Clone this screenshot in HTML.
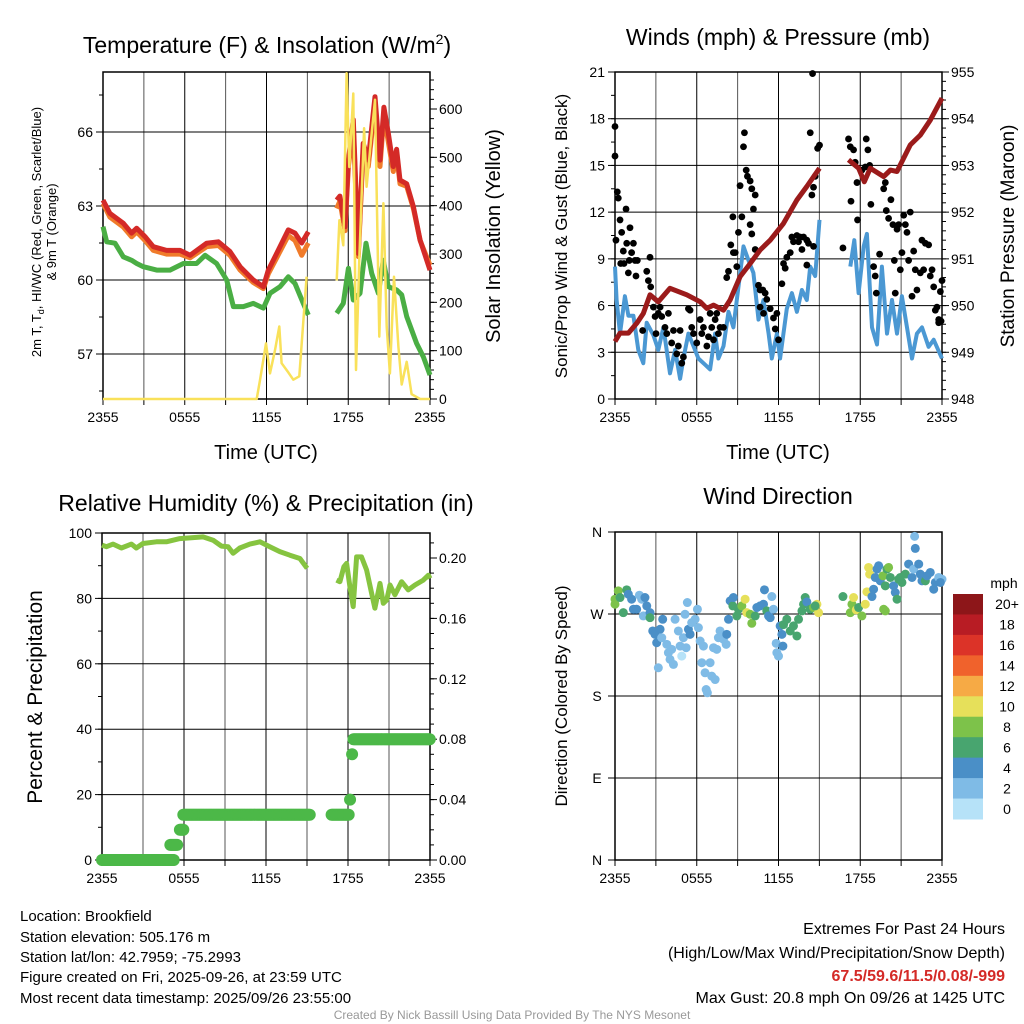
<!DOCTYPE html>
<html><head><meta charset="utf-8"><style>
html,body{margin:0;padding:0;background:#fff;}
svg{display:block;font-family:"Liberation Sans",sans-serif;}
</style></head><body>
<svg id="c" width="1024" height="1024" viewBox="0 0 1024 1024">
<g id="static">
<text x="267" y="53" font-size="23" text-anchor="middle">Temperature (F) &amp; Insolation (W/m<tspan font-size="14" dy="-9">2</tspan><tspan dy="9">)</tspan></text>
<text x="778" y="45" font-size="23" text-anchor="middle">Winds (mph) &amp; Pressure (mb)</text>
<text x="266" y="511" font-size="23" text-anchor="middle">Relative Humidity (%) &amp; Precipitation (in)</text>
<text x="778" y="504" font-size="23" text-anchor="middle">Wind Direction</text>
<text transform="translate(41,232) rotate(-90)" font-size="13" text-anchor="middle">2m T, T<tspan font-size="9" dy="3">d</tspan><tspan dy="-3">, HI/WC (Red, Green, Scarlet/Blue)</tspan></text>
<text transform="translate(56,232) rotate(-90)" font-size="13" text-anchor="middle">&amp; 9m T (Orange)</text>
<text transform="translate(500,236) rotate(-90)" font-size="20" text-anchor="middle">Solar Insolation (Yellow)</text>
<text transform="translate(567,236) rotate(-90)" font-size="17" text-anchor="middle">Sonic/Prop Wind &amp; Gust (Blue, Black)</text>
<text transform="translate(1014,236) rotate(-90)" font-size="19" text-anchor="middle">Station Pressure (Maroon)</text>
<text transform="translate(42,697) rotate(-90)" font-size="21" text-anchor="middle">Percent &amp; Precipitation</text>
<text transform="translate(567,696) rotate(-90)" font-size="17" text-anchor="middle">Direction (Colored By Speed)</text>
<text x="266" y="459" font-size="20" text-anchor="middle">Time (UTC)</text>
<text x="778" y="459" font-size="20" text-anchor="middle">Time (UTC)</text>
<g font-size="15">
<text x="20" y="921">Location: Brookfield</text>
<text x="20" y="942">Station elevation: 505.176 m</text>
<text x="20" y="962">Station lat/lon: 42.7959; -75.2993</text>
<text x="20" y="982">Figure created on Fri, 2025-09-26, at 23:59 UTC</text>
<text x="20" y="1003">Most recent data timestamp: 2025/09/26 23:55:00</text>
</g>
<g font-size="16" text-anchor="end">
<text x="1005" y="934">Extremes For Past 24 Hours</text>
<text x="1005" y="958">(High/Low/Max Wind/Precipitation/Snow Depth)</text>
<text x="1005" y="981" fill="#d42a27" font-weight="bold">67.5/59.6/11.5/0.08/-999</text>
<text x="1005" y="1003">Max Gust: 20.8 mph On 09/26 at 1425 UTC</text>
</g>
<text x="512" y="1019" font-size="12" fill="#999" text-anchor="middle">Created By Nick Bassill Using Data Provided By The NYS Mesonet</text>
<text x="1004" y="588" font-size="14" text-anchor="middle">mph</text>
</g>
</svg>
<script>
// ---------- DATA ----------
const xTickLabels = ["2355","0555","1155","1755","2355"];
const xTickHours = [0,6,12,18,24];
// Temperature panel
const tempTimes = [0,0.51,1.49,2.1,2.47,3.08,3.69,4.67,5.65,6.39,7.61,8.46,9.32,10.06,11.03,11.77,12.13,12.75,13.6,14.09,14.58,15.07,null,17.15,17.39,17.76,18.01,18.37,18.74,19.1,19.47,19.96,20.33,20.62,20.94,21.31,21.55,21.8,22.29,22.78,23.27,24.0];
const tempRed = [63.24,62.7,62.3,61.9,62.1,61.76,61.35,61.2,61.2,61.0,61.49,61.55,61.15,60.54,60.0,59.73,60.4,61.08,62.03,61.9,61.5,61.96,null,63.24,63.4,62.16,64.86,66.5,61.08,65.54,64.86,67.43,64.86,67.0,65.95,64.6,65.3,64.05,63.9,62.97,61.62,60.4];
const tempOrange = [63.1,62.55,62.15,61.75,61.95,61.6,61.2,61.05,61.05,60.9,61.35,61.4,61.0,60.4,59.9,59.65,60.25,60.9,61.8,61.6,61.0,61.5,null,62.9,63.2,62.0,64.6,66.2,60.95,65.3,64.6,67.1,64.6,66.7,65.6,64.4,65.1,63.9,63.8,62.9,61.6,60.6];
const dewTimes = [0,0.27,0.88,1.49,2.1,2.47,2.96,3.94,4.92,5.9,6.87,7.49,8.34,9.08,9.57,10.3,11.03,11.77,12.26,12.99,13.6,14.09,14.7,15.07,null,17.15,17.64,18.01,18.37,18.86,19.3,19.72,20.21,20.57,20.94,21.55,21.92,22.29,23.02,23.51,24.0];
const dewVals = [62.16,61.55,61.49,60.94,60.8,60.67,60.54,60.4,60.4,60.67,60.67,61.0,60.67,60.0,58.92,58.92,59.05,58.86,59.46,59.73,60.13,59.86,59.05,58.58,null,58.65,59.05,60.47,59.19,59.46,61.49,60.27,59.46,60.8,59.73,59.6,59.4,58.52,57.43,56.89,56.15];
const solarTimes = [0,11.0,11.28,11.52,11.96,12.26,12.62,12.94,13.11,13.6,13.97,14.41,14.94,null,17.15,17.35,17.64,17.88,18.08,18.37,18.57,18.81,19.16,19.35,19.72,19.96,20.28,20.58,20.82,21.06,21.36,21.68,21.92,22.29,22.65,23.27,24.0];
const solarVals = [0,0,0,39,115,53,100,150,74,55,40,47,253,null,245,370,318,674,480,632,60,288,560,439,550,619,129,405,150,53,253,108,30,77,10,0,0];
const tempTicks = [57,60,63,66];
const solarTicks = [0,100,200,300,400,500,600];
// Winds panel
const windTimes = [0,0.12,0.37,0.73,0.98,1.35,1.71,2.08,2.33,2.82,3.18,3.55,4.04,4.41,4.78,5.02,5.39,5.76,6.12,6.61,6.98,7.35,7.59,7.96,8.33,8.69,8.94,9.43,9.8,10.16,10.53,10.9,11.27,11.51,11.88,12.12,12.61,12.98,13.35,13.72,14.08,14.33,14.69,15.01,null,17.27,17.56,17.88,18.25,18.49,18.86,19.23,19.59,19.96,20.33,20.7,21.06,21.43,21.8,22.16,22.53,23.02,23.39,24.0];
const windVals = [8.5,6.36,4.2,6.6,5.35,5.35,3.15,2.3,4.9,4.1,3.15,4.6,1.65,3.15,1.3,2.6,4.2,3.4,2.6,2.2,1.9,4.2,2.6,3.4,5.6,4.6,6.36,9.8,8.9,8.1,5.1,6.36,4.2,2.6,4.2,2.6,5.8,6.8,5.6,7.0,6.36,8.5,7.9,11.5,null,8.5,10.2,6.8,9.8,10.6,4.6,3.5,8.5,4.2,6.36,4.2,6.6,4.6,2.6,4.2,4.6,3.35,3.8,2.6];
const gustTimes = [0,0,0.07,0.17,0.24,0.37,0.49,0.61,0.42,0.66,0.81,0.86,0.98,1.05,1.1,1.22,1.35,1.47,1.54,1.64,2.03,2.33,2.45,2.57,2.62,2.82,2.94,3.01,3.18,3.31,3.43,3.67,3.8,3.92,4.16,4.29,4.53,4.65,4.78,4.9,5.02,5.39,5.51,5.63,5.76,6.0,6.25,6.37,6.49,6.74,6.86,6.98,7.1,7.23,7.35,7.47,7.59,7.71,7.96,8.2,8.33,8.5,8.65,8.69,8.82,8.94,9.06,9.18,9.31,9.43,9.5,9.63,9.72,9.92,10.04,10.16,10.29,9.92,10.04,10.29,10.53,10.65,10.85,11.02,11.14,10.65,10.9,11.39,11.63,11.76,11.88,12.0,12.25,12.37,12.49,12.61,12.86,12.98,13.1,13.35,13.47,13.59,13.72,13.84,14.08,14.2,14.45,14.33,14.57,14.69,14.87,15.01,14.5,14.08,14.57,16.73,17.14,17.27,17.32,17.51,17.63,17.76,17.8,18.12,18.37,18.44,18.56,18.69,18.78,18.98,19.1,19.18,19.42,19.72,19.84,19.91,20.08,20.25,20.4,20.5,20.57,20.7,20.82,20.94,21.06,21.19,21.31,21.43,21.55,21.67,21.8,21.92,22.04,22.16,22.41,22.53,22.65,22.78,23.02,23.14,23.27,23.39,23.51,23.63,23.76,23.88,24.0,23.76,23.93];
const gustVals = [17.5,15.6,10.2,13.3,12.9,11.5,10.7,9.5,8.7,8.7,12.2,10.0,8.1,8.9,11.0,9.4,10.0,8.9,7.9,8.9,4.4,8.2,7.6,9.1,7.2,5.9,5.3,4.2,5.5,5.9,5.3,4.6,4.2,5.5,3.6,4.4,2.9,3.4,4.4,2.3,2.7,5.8,5.7,4.6,4.2,3.6,5.1,4.2,4.6,3.4,4.0,5.5,4.6,3.8,5.1,5.5,4.2,4.6,4.6,7.8,8.2,9.9,11.7,9.4,9.4,8.5,10.7,13.7,11.7,16.2,17.1,14.7,14.3,14.0,13.5,12.2,13.1,11.2,10.6,9.6,7.3,7.0,7.0,6.8,6.4,5.9,5.5,5.8,5.2,4.5,5.5,3.8,7.4,8.7,8.4,9.1,9.4,10.4,10.1,10.5,10.1,10.4,9.6,10.4,10.2,10.0,13.1,17.1,13.6,14.3,16.1,16.3,20.9,8.6,9.8,9.7,16.7,16.2,12.7,16.0,15.2,13.9,11.5,14.7,14.9,16.7,16.0,15.0,12.5,8.5,7.9,6.8,9.3,13.5,13.9,12.1,11.6,12.8,11.2,8.9,6.8,10.9,11.2,8.3,9.4,11.8,11.2,10.7,8.9,12.0,6.6,9.5,8.3,7.0,8.1,10.2,8.3,10.0,9.9,7.9,8.3,7.2,5.7,5.9,5.1,6.9,7.6,4.9,5.0];
const presTimes = [0,0.37,0.98,1.59,2.08,2.57,3.18,4.04,5.27,6.25,6.74,7.23,7.96,8.45,9.18,9.92,10.65,11.39,12.37,13.35,14.08,15.01,null,17.14,17.88,18.3,18.74,19.72,20.21,20.7,21.67,22.41,23.14,24.0];
const presVals = [949.23,949.41,949.41,949.62,949.83,950.23,950.08,950.37,950.23,950.08,949.94,950.01,949.9,950.12,950.62,950.9,951.19,951.4,951.76,952.26,952.55,952.94,null,953.12,952.94,952.65,952.94,952.76,952.9,952.87,953.44,953.65,953.97,954.44];
const windTicks = [0,3,6,9,12,15,18,21];
const presTicks = [948,949,950,951,952,953,954,955];
// Humidity panel
const rhTimes = [0,0.32,0.81,1.42,2.15,2.51,3.0,3.98,4.71,5.69,7.4,8.13,8.74,9.23,9.59,10.08,10.82,11.55,12.28,13.01,13.75,14.48,15.01,null,17.16,17.41,17.7,17.9,18.14,18.38,18.63,18.99,19.36,19.73,19.97,20.34,20.58,20.83,21.07,21.43,21.92,22.41,22.9,23.51,23.88,24.0];
const rhVals = [96.3,95.8,96.6,95.4,96.6,95.4,96.8,97.3,97.3,98.3,98.8,97.8,96.0,95.8,93.8,95.4,96.6,97.3,95.8,94.3,93.2,92.2,89.2,null,85.6,85.1,89.7,90.7,83.6,77.5,92.7,92.7,88.7,81.6,77.0,84.6,78.5,79.5,84.1,81.1,85.1,82.6,84.1,85.6,87.1,86.1];
const precipStart = [0,5.0,5.7,5.95,16.8,18.15,18.3,18.4];
const precipEnd   = [5.3,5.55,5.95,15.2,18.1,18.15,18.3,24.0];
const precipVals  = [0.00,0.01,0.02,0.03,0.03,0.04,0.07,0.08];
const rhTicks = [0,20,40,60,80,100];
const precipTicks = [0.00,0.04,0.08,0.12,0.16,0.20];
// Wind direction panel
const dirTimes = [0,0,0.24,0.37,0.61,0.86,0.98,1.22,1.35,1.59,1.79,1.96,2.08,2.2,2.33,2.57,2.57,2.77,2.94,3.06,3.31,3.5,3.43,3.18,3.8,3.92,4.04,4.16,4.29,4.41,4.65,4.78,4.9,5.02,5.22,5.31,5.14,5.39,5.51,5.63,5.88,6.05,6.12,6.25,6.37,6.49,6.61,6.69,6.78,6.98,7.1,7.35,7.23,7.47,7.59,7.71,7.96,8.16,8.2,8.33,8.45,8.65,8.69,8.94,9.06,9.31,9.55,9.67,9.92,10.04,10.29,10.41,10.65,10.9,10.97,11.14,11.27,11.39,11.51,11.63,11.83,11.88,12.0,12.12,12.25,12.32,12.37,12.61,12.86,13.1,13.35,13.47,13.72,13.84,13.96,14.08,14.33,14.57,14.82,14.94,14.69,16.73,17.27,17.39,17.51,17.71,17.88,18.12,18.37,18.49,18.61,18.69,18.86,18.98,19.1,19.23,19.35,19.47,19.67,19.84,19.96,20.08,20.21,20.45,20.57,20.7,20.82,20.94,21.06,21.31,21.55,21.8,21.92,22.04,21.99,22.29,22.41,22.53,22.78,22.9,23.14,23.39,23.51,23.76,24.0,23.88,19.72,19.84];
const dirVals = [280.7,286.2,295.4,288.1,271.5,296.5,291.7,286.2,275.2,275.2,290.6,286.2,267.9,288.1,278.9,271.5,266.0,251.4,247.7,238.5,253.2,264.2,244.0,211.0,236.7,227.5,220.2,231.2,214.7,264.2,251.4,234.8,223.8,244.0,233.0,282.6,269.7,253.2,247.7,260.5,264.2,275.2,255.0,240.3,216.5,234.8,205.5,187.1,183.5,216.5,201.8,198.1,233.0,231.2,244.0,251.4,242.2,236.7,247.7,264.2,284.4,278.9,288.1,267.9,275.2,278.9,286.2,271.5,269.7,259.8,267.9,277.1,278.9,280.7,296.5,273.4,267.9,266.0,289.2,275.2,237.8,227.5,223.8,256.9,247.7,234.8,258.4,264.2,251.4,256.9,245.9,264.2,273.4,280.7,288.1,283.3,275.2,277.1,280.7,271.5,278.9,289.2,271.5,280.7,288.1,274.5,277.1,267.9,280.7,294.3,321.1,313.7,289.2,297.2,310.1,319.3,322.9,306.4,311.9,300.9,319.3,321.1,310.1,300.9,293.6,286.2,308.2,310.1,304.6,313.7,324.8,310.1,319.3,342.0,355.2,324.8,313.7,306.4,306.4,311.9,315.6,297.2,304.6,310.1,308.2,304.6,275.2,273.4];
const dirSpeeds = [9,9,9,7,7,7,5,5,5,5,3,3,3,5,5,5,7,5,5,5,5,5,3,3,3,3,3,3,3,3,3,3,1,3,3,3,3,5,5,3,3,3,3,3,3,3,3,3,3,3,3,3,3,3,3,3,3,3,5,5,5,7,5,7,7,9,11,11,9,9,7,5,5,5,5,7,5,5,3,3,3,3,3,5,5,5,7,7,7,7,7,7,7,7,7,5,7,9,11,11,7,7,9,9,11,11,7,9,11,11,11,11,5,5,5,5,5,5,9,7,7,9,7,5,5,7,7,7,7,7,5,5,3,5,3,5,5,5,7,5,5,5,5,3,3,5,9,9];
const cbarLabels = ["20+","18","16","14","12","10","8","6","4","2","0"];
const cbarColors = ["#8d1619","#b81c24","#dc3328","#f0622c","#f6aa45","#e6e05a","#7dc24a","#48a56f","#4a8fc7","#7fbbe6","#b6e2f8"];
const dirTickLabels = ["N","E","S","W","N"];
const dirTickVals = [0,90,180,270,360];

// ---------- DRAW ----------
const NS="http://www.w3.org/2000/svg";
const svg=document.getElementById('c');
function mk(tag,attrs,parent){const e=document.createElementNS(NS,tag);for(const k in attrs)e.setAttribute(k,attrs[k]);(parent||svg).appendChild(e);return e;}
function lin(d0,d1,r0,r1){return v=>r0+(v-d0)/(d1-d0)*(r1-r0);}
function pathFrom(ts,vs,xs,ys){let d="",pen=false;for(let i=0;i<ts.length;i++){if(ts[i]===null||vs[i]===null){pen=false;continue;}d+=(pen?"L":"M")+xs(ts[i]).toFixed(1)+","+ys(vs[i]).toFixed(1);pen=true;}return d;}

function frame(name,L,R,T,B,xs,yTicksPix){
  const g=mk('g',{});
  
  
  for(let h=3;h<24;h+=3){const l=mk('line',{x1:xs(h),x2:xs(h),y1:T,y2:B,stroke:(h%6===0)?'#000':'#555','stroke-width':1},g);}
  yTicksPix.forEach(y=>{const l=mk('line',{x1:L,x2:R,y1:y,y2:y,stroke:'#000','stroke-width':1},g);});
  for(let h=0;h<=24;h+=3){const l=mk('line',{x1:xs(h),x2:xs(h),y1:B,y2:B+6,stroke:'#000','stroke-width':1},g);}
  xTickHours.forEach((h,i)=>{const t=mk('text',{x:xs(h),y:B+23,'font-size':14,'text-anchor':'middle'},g);t.textContent=xTickLabels[i];});
  const r=mk('rect',{x:L,y:T,width:R-L,height:B-T,fill:'none',stroke:'#000','stroke-width':1.5},g);
  
  return g;
}
function leftAxis(g,L,ticks,ys,fmt,minorStep,d0,d1){
  ticks.forEach(v=>{const y=ys(v);mk('line',{x1:L-7,x2:L,y1:y,y2:y,stroke:'#000'},g);const t=mk('text',{x:L-10,y:y+5,'font-size':14,'text-anchor':'end'},g);t.textContent=fmt(v);});
  for(let v=d0;v<=d1+1e-9;v+=minorStep){const y=ys(v);mk('line',{x1:L-4,x2:L,y1:y,y2:y,stroke:'#000'},g);}
}
function rightAxis(g,R,ticks,ys,fmt,minorStep,d0,d1){
  ticks.forEach(v=>{const y=ys(v);mk('line',{x1:R,x2:R+7,y1:y,y2:y,stroke:'#000'},g);const t=mk('text',{x:R+9,y:y+5,'font-size':14,'text-anchor':'start'},g);t.textContent=fmt(v);});
  for(let v=d0;v<=d1+1e-9;v+=minorStep){const y=ys(v);mk('line',{x1:R,x2:R+4,y1:y,y2:y,stroke:'#000'},g);}
}

// Panel 1
(function(){
  const L=103,R=430,T=72,B=399;
  const xs=lin(0,24,L,R), ys=lin(57,66,354,132), ss=lin(0,600,399,109);
  const g=frame('temperature',L,R,T,B,xs,tempTicks.map(ys));
  leftAxis(g,L,tempTicks,ys,v=>v,1.5,55.5,67.5);
  rightAxis(g,R,solarTicks,ss,v=>v,20,0,660);
  let p=mk('path',{d:pathFrom(tempTimes,tempOrange,xs,ys),fill:'none',stroke:'#f07b2a','stroke-width':5,'stroke-linejoin':'round'});
  
  p=mk('path',{d:pathFrom(tempTimes,tempRed,xs,ys),fill:'none',stroke:'#d42a27','stroke-width':5,'stroke-linejoin':'round'});
  
  p=mk('path',{d:pathFrom(dewTimes,dewVals,xs,ys),fill:'none',stroke:'#4aae44','stroke-width':5,'stroke-linejoin':'round'});
  
  p=mk('path',{d:pathFrom(solarTimes,solarVals,xs,ss),fill:'none',stroke:'#f9e15a','stroke-width':2.5,'stroke-linejoin':'round'});
  
})();

// Panel 2
(function(){
  const L=615,R=942,T=72,B=399;
  const xs=lin(0,24,L,R), ys=lin(0,21,B,T), ps=lin(948,955,B,T);
  const g=frame('winds',L,R,T,B,xs,windTicks.map(ys));
  leftAxis(g,L,windTicks,ys,v=>v,1.5,0,21);
  rightAxis(g,R,presTicks,ps,v=>v,0.2,948,955);
  let p=mk('path',{d:pathFrom(windTimes,windVals,xs,ys),fill:'none',stroke:'#4b98d3','stroke-width':4,'stroke-linejoin':'round'});
  
  gustTimes.forEach((t,i)=>{const c=mk('circle',{cx:xs(t),cy:ys(gustVals[i]),r:3.4,fill:'#000'});
    
    });
  p=mk('path',{d:pathFrom(presTimes,presVals,xs,ps),fill:'none',stroke:'#9b1b1b','stroke-width':5,'stroke-linejoin':'round'});
  
})();

// Panel 3
(function(){
  const L=102,R=430,T=533,B=860;
  const xs=lin(0,24,L,R), ys=lin(0,100,B,T), qs=lin(0,0.2,B,558);
  const g=frame('humidity',L,R,T,B,xs,rhTicks.map(ys));
  leftAxis(g,L,rhTicks,ys,v=>v,10,0,100);
  rightAxis(g,R,precipTicks,qs,v=>v.toFixed(2),0.01,0,0.21);
  let p=mk('path',{d:pathFrom(rhTimes,rhVals,xs,ys),fill:'none',stroke:'#86c440','stroke-width':5,'stroke-linejoin':'round'});
  
  precipVals.forEach((v,i)=>{for(let t=precipStart[i];t<=precipEnd[i]+1e-9;t+=1/12){const c=mk('circle',{cx:xs(t),cy:qs(v),r:6,fill:'#4cb848'});
    
    }});
})();

// Panel 4
(function(){
  const L=615,R=942,T=532,B=860;
  const xs=lin(0,24,L,R), ys=lin(0,360,B,T);
  const g=frame('wind-direction',L,R,T,B,xs,dirTickVals.map(ys));
  dirTickVals.forEach((v,i)=>{const y=ys(v);mk('line',{x1:L-7,x2:L,y1:y,y2:y,stroke:'#000'},g);const t=mk('text',{x:L-18,y:y+5,'font-size':14,'text-anchor':'middle'},g);t.textContent=dirTickLabels[i];});
  const colorIdx=s=>Math.max(0,10-Math.floor(s/2));
  dirTimes.forEach((t,i)=>{const c=mk('circle',{cx:xs(t),cy:ys(dirVals[i]),r:4.5,fill:cbarColors[colorIdx(dirSpeeds[i])]});
    
    });
  const cb=mk('g',{});
  
  
  const h=(819-594)/11;
  cbarColors.forEach((col,i)=>{const r=mk('rect',{x:953,y:594+i*h,width:30,height:h+0.5,fill:col},cb);
    const t=mk('text',{x:1007,y:594+(i+0.5)*h+5,'font-size':14,'text-anchor':'middle'},cb);t.textContent=cbarLabels[i];});
})();
</script>
</body></html>
